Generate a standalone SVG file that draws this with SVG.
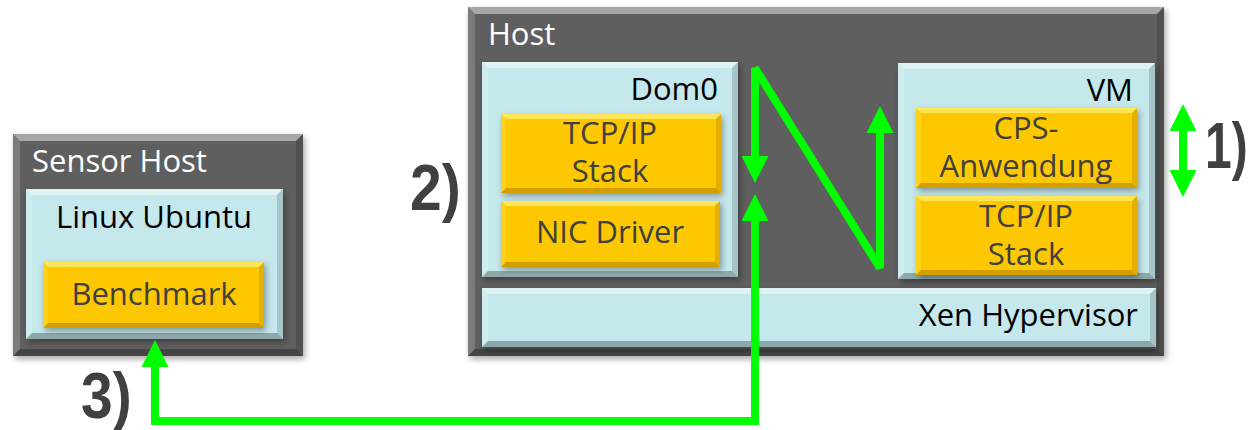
<svg xmlns="http://www.w3.org/2000/svg" width="1257" height="430" viewBox="0 0 1257 430">
  <defs>
    <filter id="shadow" x="-5%" y="-5%" width="115%" height="115%">
      <feDropShadow dx="2" dy="3" stdDeviation="3" flood-color="#000" flood-opacity="0.35"/>
    </filter>
    <marker id="head" markerUnits="userSpaceOnUse" viewBox="0 0 27 27" markerWidth="27" markerHeight="27" refX="2" refY="13.5" orient="auto-start-reverse">
      <path d="M0,0 L27,13.5 L0,27 z" fill="#00ff00"/>
    </marker>
    <style>
      .dark { fill: #5e5e5e; }
      .light { fill: #c5e8ec; }
      .gold { fill: #fec800; }
      .bt { fill: #ffffff; fill-opacity: 0.45; }
      .bl { fill: #ffffff; fill-opacity: 0.18; }
      .br { fill: #000000; fill-opacity: 0.15; }
      .bb { fill: #000000; fill-opacity: 0.28; }
      .gt { fill: #fff27a; fill-opacity: 0.7; }
      .gl { fill: #ffe040; fill-opacity: 0.4; }
      .gr { fill: #b07800; fill-opacity: 0.3; }
      .gb { fill: #a06a00; fill-opacity: 0.45; }
      text { font-family: "Open Sans", "Liberation Sans", sans-serif; font-size: 31px; }
      .w { fill: #ffffff; }
      .k { fill: #000000; }
      .g { fill: #404040; text-anchor: middle; }
      .num { font-family: "Liberation Sans", Arial, sans-serif; font-weight: bold; font-size: 64px; fill: #404040; }
      .wire { fill: none; stroke: #00ff00; stroke-width: 8; }
    </style>
  </defs>

  <!-- Sensor host -->
  <g id="sensor-host">
    <rect class="dark" x="13" y="134" width="290" height="222" filter="url(#shadow)"/>
    <polygon class="bt" points="13,134 303,134 296,141 20,141"/>
    <polygon class="bl" points="13,134 20,141 20,349 13,356"/>
    <polygon class="br" points="303,134 303,356 296,349 296,141"/>
    <polygon class="bb" points="13,356 20,349 296,349 303,356"/>
    <text class="w" x="32" y="172">Sensor Host</text>
  </g>
  <g id="linux-ubuntu">
    <rect class="light" x="26" y="189" width="257" height="150" filter="url(#shadow)"/>
    <polygon class="bt" points="26,189 283,189 277,195 32,195"/>
    <polygon class="bl" points="26,189 32,195 32,333 26,339"/>
    <polygon class="br" points="283,189 283,339 277,333 277,195"/>
    <polygon class="bb" points="26,339 32,333 277,333 283,339"/>
    <text class="k" x="154" y="228" text-anchor="middle">Linux Ubuntu</text>
  </g>
  <g id="benchmark">
    <rect class="gold" x="43" y="262" width="221" height="66" filter="url(#shadow)"/>
    <polygon class="gt" points="43,262 264,262 259,267 48,267"/>
    <polygon class="gl" points="43,262 48,267 48,323 43,328"/>
    <polygon class="gr" points="264,262 264,328 259,323 259,267"/>
    <polygon class="gb" points="43,328 48,323 259,323 264,328"/>
    <text class="g" x="154" y="305">Benchmark</text>
  </g>

  <!-- Virtualised host -->
  <g id="host">
    <rect class="dark" x="468" y="7" width="696" height="349" filter="url(#shadow)"/>
    <polygon class="bt" points="468,7 1164,7 1157,14 475,14"/>
    <polygon class="bl" points="468,7 475,14 475,349 468,356"/>
    <polygon class="br" points="1164,7 1164,356 1157,349 1157,14"/>
    <polygon class="bb" points="468,356 475,349 1157,349 1164,356"/>
    <text class="w" x="488" y="45">Host</text>
  </g>
  <g id="dom0">
    <rect class="light" x="482" y="62" width="256" height="215" filter="url(#shadow)"/>
    <polygon class="bt" points="482,62 738,62 732,68 488,68"/>
    <polygon class="bl" points="482,62 488,68 488,271 482,277"/>
    <polygon class="br" points="738,62 738,277 732,271 732,68"/>
    <polygon class="bb" points="482,277 488,271 732,271 738,277"/>
    <text class="k" x="718" y="100" text-anchor="end">Dom0</text>
  </g>
  <g id="dom0-tcpip">
    <rect class="gold" x="501" y="114" width="220" height="79" filter="url(#shadow)"/>
    <polygon class="gt" points="501,114 721,114 716,119 506,119"/>
    <polygon class="gl" points="501,114 506,119 506,188 501,193"/>
    <polygon class="gr" points="721,114 721,193 716,188 716,119"/>
    <polygon class="gb" points="501,193 506,188 716,188 721,193"/>
    <text class="g" x="610" y="144">TCP/IP</text>
    <text class="g" x="610" y="182">Stack</text>
  </g>
  <g id="nic-driver">
    <rect class="gold" x="501" y="201" width="219" height="66" filter="url(#shadow)"/>
    <polygon class="gt" points="501,201 720,201 715,206 506,206"/>
    <polygon class="gl" points="501,201 506,206 506,262 501,267"/>
    <polygon class="gr" points="720,201 720,267 715,262 715,206"/>
    <polygon class="gb" points="501,267 506,262 715,262 720,267"/>
    <text class="g" x="610" y="243">NIC Driver</text>
  </g>
  <g id="vm">
    <rect class="light" x="898" y="63" width="257" height="216" filter="url(#shadow)"/>
    <polygon class="bt" points="898,63 1155,63 1149,69 904,69"/>
    <polygon class="bl" points="898,63 904,69 904,273 898,279"/>
    <polygon class="br" points="1155,63 1155,279 1149,273 1149,69"/>
    <polygon class="bb" points="898,279 904,273 1149,273 1155,279"/>
    <text class="k" x="1133" y="101" text-anchor="end">VM</text>
  </g>
  <g id="cps-app">
    <rect class="gold" x="916" y="108" width="221" height="80" filter="url(#shadow)"/>
    <polygon class="gt" points="916,108 1137,108 1132,113 921,113"/>
    <polygon class="gl" points="916,108 921,113 921,183 916,188"/>
    <polygon class="gr" points="1137,108 1137,188 1132,183 1132,113"/>
    <polygon class="gb" points="916,188 921,183 1132,183 1137,188"/>
    <text class="g" x="1026" y="139">CPS-</text>
    <text class="g" x="1026" y="177">Anwendung</text>
  </g>
  <g id="vm-tcpip">
    <rect class="gold" x="916" y="196" width="221" height="79" filter="url(#shadow)"/>
    <polygon class="gt" points="916,196 1137,196 1132,201 921,201"/>
    <polygon class="gl" points="916,196 921,201 921,270 916,275"/>
    <polygon class="gr" points="1137,196 1137,275 1132,270 1132,201"/>
    <polygon class="gb" points="916,275 921,270 1132,270 1137,275"/>
    <text class="g" x="1026" y="227">TCP/IP</text>
    <text class="g" x="1026" y="265">Stack</text>
  </g>
  <g id="xen">
    <rect class="light" x="482" y="288" width="674" height="59" filter="url(#shadow)"/>
    <polygon class="bt" points="482,288 1156,288 1150,294 488,294"/>
    <polygon class="bl" points="482,288 488,294 488,341 482,347"/>
    <polygon class="br" points="1156,288 1156,347 1150,341 1150,294"/>
    <polygon class="bb" points="482,347 488,341 1150,341 1156,347"/>
    <text class="k" x="1138" y="326" text-anchor="end">Xen Hypervisor</text>
  </g>

  <!-- Packet paths -->
  <g id="connectors">
    <polyline class="wire" stroke-linejoin="bevel" points="755,158 755,68 880,268 880,131" marker-start="url(#head)" marker-end="url(#head)"/>
    <polyline class="wire" points="755,219 755,421 155,421 155,365" marker-start="url(#head)" marker-end="url(#head)"/>
    <line class="wire" x1="1183" y1="129" x2="1183" y2="172" marker-start="url(#head)" marker-end="url(#head)"/>
  </g>

  <!-- Step labels, narrowed horizontally -->
  <g id="labels">
    <text class="num" transform="translate(1205,168) scale(0.75,1)">1)</text>
    <text class="num" transform="translate(410,210) scale(0.89,1)">2)</text>
    <text class="num" transform="translate(81,418) scale(0.89,1)">3)</text>
  </g>
</svg>
